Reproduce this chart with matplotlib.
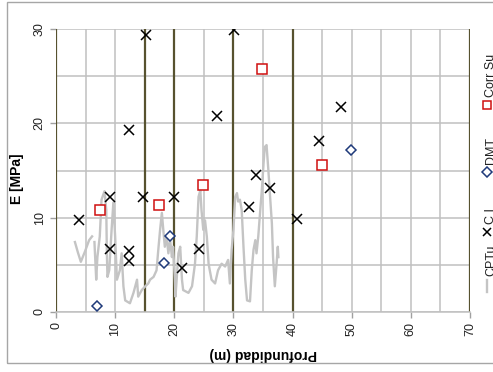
import numpy as np
import matplotlib
matplotlib.use("Agg")
import matplotlib.pyplot as plt
from matplotlib.lines import Line2D
from matplotlib.patches import Rectangle

plt.rcParams['font.family'] = ['Liberation Sans', 'DejaVu Sans']

# CPTu profile (depth m, E MPa)
cptu_a_depth = [3.2, 3.7, 4.2, 4.9, 5.6, 6.1]
cptu_a_e = [7.4, 6.3, 5.3, 6.4, 7.6, 8.0]

cptu_b_depth = [6.5, 6.8, 7.0, 7.4, 7.7, 8.2, 8.5, 8.6, 8.7, 9.0, 9.4, 9.7, 10.0, 10.3, 10.8,
                11.1, 11.4, 11.7, 12.5, 13.1, 13.7, 13.9, 14.5, 15.1, 15.6, 15.9, 16.5, 17.0,
                17.3, 17.6, 17.9, 18.1, 18.4, 18.7, 19.0, 19.3, 19.6, 19.8, 20.1, 20.2, 20.4,
                20.7, 21.0, 21.3, 21.5, 22.4, 23.0, 23.5, 23.8, 24.1, 24.4, 24.6, 24.9, 25.2,
                25.5, 25.8, 26.0, 26.3, 26.9, 27.4, 28.0, 28.6, 29.1, 29.4, 29.7, 30.0, 30.3,
                30.6, 30.8, 31.1, 31.4, 31.7, 32.0, 32.3, 32.8, 33.1, 33.4, 33.7, 33.9, 34.2,
                34.5, 34.8, 35.1, 35.3, 35.6, 35.9, 36.2, 36.5, 36.7, 37.0, 37.3, 37.5, 37.6]
cptu_b_e = [7.4, 3.4, 5.8, 8.0, 11.9, 12.8, 10.8, 6.2, 3.7, 4.4, 8.7, 11.6, 8.0, 3.4, 4.4,
            6.2, 2.7, 1.2, 0.9, 2.0, 3.4, 1.6, 2.3, 2.7, 3.0, 3.4, 3.7, 4.4,
            6.6, 8.7, 10.5, 9.0, 6.9, 8.0, 6.2, 7.6, 5.8, 6.9, 3.4, 1.6, 3.4,
            6.2, 6.9, 3.4, 2.3, 2.0, 2.7, 5.1, 8.0, 12.2, 12.9, 10.8, 8.7, 9.7,
            8.0, 5.1, 4.4, 3.4, 3.0, 4.4, 5.1, 4.8, 5.5, 3.0, 6.6, 8.7, 12.2,
            12.6, 11.7, 11.9, 10.8, 6.9, 3.4, 1.2, 1.1, 4.4, 6.6, 7.6, 6.2, 8.0,
            10.5, 12.9, 15.8, 17.5, 17.7, 15.1, 12.2, 9.4, 5.8, 2.7, 5.1, 6.9, 5.8]

# CI (crosses)
ci_depth = [3.9, 9.2, 9.2, 12.3, 12.3, 12.3, 14.7, 15.2, 20.0, 21.3, 24.2, 27.2,
            30.1, 32.7, 33.8, 36.2, 40.7, 44.5, 48.2]
ci_e = [9.7, 12.2, 6.7, 19.3, 6.4, 5.4, 12.2, 29.4, 12.2, 4.6, 6.7, 20.8,
        29.9, 11.1, 14.5, 13.1, 9.9, 18.1, 21.7]

# DMT (diamonds)
dmt_depth = [7.0, 18.3, 19.3, 49.9]
dmt_e = [0.6, 5.2, 8.0, 17.2]

# Corr Su (squares)
su_depth = [7.4, 17.4, 24.9, 34.9, 44.9]
su_e = [10.8, 11.3, 13.5, 25.8, 15.6]

strata = [0, 15, 20, 30, 40, 70]
legend_names = ['CPTu', 'C I', 'DMT', 'Corr Su']

olive = '#57522f'
grid_c = '#c0c0c0'
navy = '#1f3a7a'
red = '#d01010'
curve_c = '#c4c4c4'

fig = plt.figure(figsize=(4.93, 3.72), dpi=100)
fig.patch.set_facecolor('white')
ax = fig.add_axes([56 / 493, 1 - 311.7 / 372, 414 / 493, 282.4 / 372])

ax.set_xlim(0, 70)
ax.set_ylim(0, 30)
ax.set_xticks(np.arange(0, 71, 10))
ax.set_yticks(np.arange(0, 31, 10))
ax.set_xticks(np.arange(0, 71, 5), minor=True)
ax.set_yticks(np.arange(0, 31, 5), minor=True)
ax.grid(which='both', color=grid_c, lw=1.1, zorder=0)
ax.set_axisbelow(True)
for s in ['top', 'right', 'left']:
    ax.spines[s].set_visible(False)
ax.spines['bottom'].set_color(grid_c)
ax.spines['bottom'].set_linewidth(1.1)
ax.tick_params(which='minor', length=0)
ax.tick_params(which='major', length=4, color='#a0a0a0', width=1, labelsize=9,
               labelcolor='#222222')
plt.setp(ax.get_yticklabels(), rotation=90, va='center')
plt.setp(ax.get_xticklabels(), rotation=90, ha='center')

for d in strata:
    ax.axvline(d, color=olive, lw=1.6, zorder=1)

ax.plot(cptu_a_depth, cptu_a_e, color=curve_c, lw=1.7, zorder=2, clip_on=False)
ax.plot(cptu_b_depth, cptu_b_e, color=curve_c, lw=1.7, zorder=2, clip_on=False)
ax.plot(ci_depth, ci_e, ls='none', marker='x', ms=6.5, mew=1.1, color='black', zorder=4)
ax.plot(dmt_depth, dmt_e, ls='none', marker='D', ms=5.5, mew=1.1, mfc='white', mec=navy, zorder=4)
ax.plot(su_depth, su_e, ls='none', marker='s', ms=6.5, mew=1.1, mfc='white', mec=red, zorder=4)

ax.set_ylabel('E [MPa]', fontsize=10, fontweight='bold', rotation=90, labelpad=4)
ax.yaxis.set_label_coords(-0.078, 0.47)
ax.set_xlabel('Profundidad (m)', fontsize=10, fontweight='bold', rotation=180)
ax.xaxis.set_label_coords(0.5, -0.125)

# chart area border
fig.add_artist(Rectangle((7 / 493, 1 - 363 / 372), 1.0, 361 / 372, transform=fig.transFigure,
                         fill=False, edgecolor='#a6a6a6', lw=1.0))

# legend, rotated and cut at the right edge as in the reference
def fy(py):
    return 1 - py / 372

lx = 487 / 493
fig.add_artist(Line2D([lx, lx], [fy(292), fy(280)], color=curve_c, lw=1.7))
fig.add_artist(Line2D([lx], [fy(232)], ls='none', marker='x', ms=6, mew=1.1, color='black'))
fig.add_artist(Line2D([lx], [fy(172)], ls='none', marker='D', ms=5, mew=1.1, mfc='white', mec=navy))
fig.add_artist(Line2D([lx], [fy(105)], ls='none', marker='s', ms=6, mew=1.1, mfc='white', mec=red))
for name, py in zip(legend_names, [276, 224, 164, 97]):
    fig.text(491 / 493, fy(py), name, rotation=90, ha='center', va='bottom', fontsize=9,
             color='#222222')

fig.savefig('out.png', dpi=100)
